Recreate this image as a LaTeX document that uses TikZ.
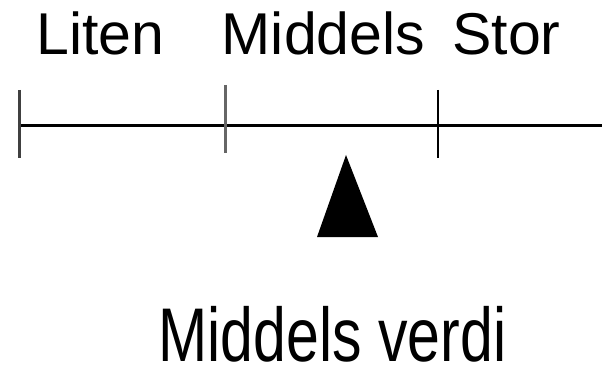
\documentclass[tikz,border=0pt]{standalone}
\usepackage{fontspec}
\setmainfont{Liberation Sans}
\usepackage{tikz}
\usetikzlibrary{calc}
\newcommand{\lbl}{\fontsize{59}{70}\selectfont}

\begin{document}
\begin{tikzpicture}[x=1pt,y=-1pt]
	\useasboundingbox (0,0) rectangle (602,366);

	\draw[line width=3pt] (19,125.5) to (602,125.5);
	\draw[line width=3pt,black!75] (19,90) to (19,158);
	\draw[line width=3pt,black!60] (225,85) to (225,153);
	\draw[line width=2.5pt] (438,90) to (438,158);

	\fill (346,155) -- (378,237) -- (317,237) -- cycle;

	\node[inner sep=0,anchor=base] (liten) at (100.5,55){\lbl Liten};
	\node[inner sep=0,anchor=base] (middels) at (323.5,55){\lbl Middels};
	\node[inner sep=0,anchor=base] (stor) at (506.5,55){\lbl Stor};
	\node[inner sep=0,anchor=base] (verdi) at (332.5,361){\lbl\raisebox{0pt}[\height][0pt]{\scalebox{1}[1.29]{Middels verdi}}};
\end{tikzpicture}
\end{document}
